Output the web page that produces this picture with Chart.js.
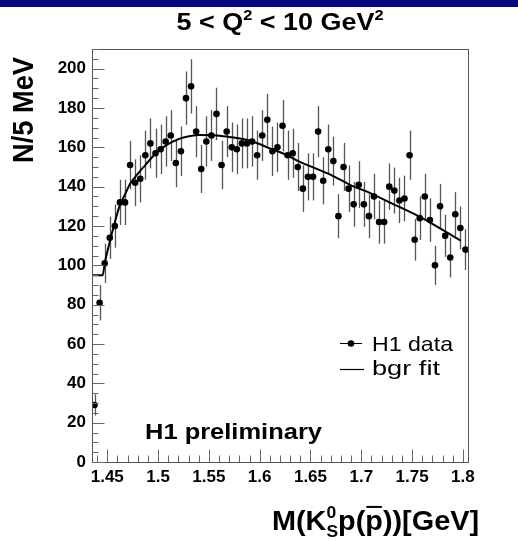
<!DOCTYPE html>
<html><head><meta charset="utf-8">
<script src="https://cdn.jsdelivr.net/npm/chart.js@4/dist/chart.umd.min.js"></script>
<style>html,body{margin:0;padding:0;background:#fff;}#wrap{width:518px;height:541px;position:relative}</style>
</head><body><div id="wrap"><canvas id="c" width="518" height="541"></canvas></div>
<script>
// bin centres of the 5 MeV mass bins (GeV)
const BIN_CENTERS = [1.4375,1.4425,1.4475,1.4525,1.4575,1.4625,1.4675,1.4725,1.4775,1.4825,
 1.4875,1.4925,1.4975,1.5025,1.5075,1.5125,1.5175,1.5225,1.5275,1.5325,
 1.5375,1.5425,1.5475,1.5525,1.5575,1.5625,1.5675,1.5725,1.5775,1.5825,
 1.5875,1.5925,1.5975,1.6025,1.6075,1.6125,1.6175,1.6225,1.6275,1.6325,
 1.6375,1.6425,1.6475,1.6525,1.6575,1.6625,1.6675,1.6725,1.6775,1.6825,
 1.6875,1.6925,1.6975,1.7025,1.7075,1.7125,1.7175,1.7225,1.7275,1.7325,
 1.7375,1.7425,1.7475,1.7525,1.7575,1.7625,1.7675,1.7725,1.7775,1.7825,
 1.7875,1.7925,1.7975,1.8025];
// H1 data: entries per bin
const H1_COUNTS = [29,81,101,114,120,132,132,151,142,144,
 156,162,157,159,163,166,152,158,185,191,
 168,149,163,166,177,151,168,160,159,162,
 162,163,156,166,174,158,160,171,156,157,
 150,139,145,145,168,143,159,153,125,150,
 139,131,141,131,125,135,122,122,140,138,
 133,134,156,113,124,135,123,100,130,115,
 104,126,119,108];
// statistical errors per bin
const H1_ERRORS = [5.4,9.0,10.0,10.7,11.0,11.5,11.5,12.3,11.9,12.0,
 12.5,12.7,12.5,12.6,12.8,12.9,12.3,12.6,13.6,13.8,
 13.0,12.2,12.8,12.9,13.3,12.3,13.0,12.6,12.6,12.7,
 12.7,12.8,12.5,12.9,13.2,12.6,12.6,13.1,12.5,12.5,
 12.2,11.8,12.0,12.0,13.0,12.0,12.6,12.4,11.2,12.2,
 11.8,11.4,11.9,11.4,11.2,11.6,11.0,11.0,11.8,11.7,
 11.5,11.6,12.5,10.6,11.1,11.6,11.1,10.0,11.4,10.7,
 10.2,11.2,10.9,10.4];
// background fit curve
const FIT_X = [1.435,1.4455,1.4475,1.452,1.457,1.462,1.4675,1.4725,1.48,1.4875,1.495,1.505,1.515,1.525,1.54,1.555,1.57,1.59,1.61,1.625,1.64,1.655,1.67,1.69,1.71,1.73,1.76,1.78,1.798];
const FIT_Y = [95,95,101,111,121,130,136,141.5,146.5,151,155.5,160,163,165,166.3,166.2,165.3,163.5,159.5,156.5,152.5,149.3,146,140.7,136.5,131.5,124,118,112.5];
// axis ticks
const X_TICKS = [1.45,1.5,1.55,1.6,1.65,1.7,1.75,1.8];
const X_TICK_LABELS = ['1.45','1.5','1.55','1.6','1.65','1.7','1.75','1.8'];
const Y_TICKS = [0,20,40,60,80,100,120,140,160,180,200];
const Y_TICK_LABELS = ['0','20','40','60','80','100','120','140','160','180','200'];
const TITLE_TEXT = '5 < Q² < 10 GeV²';
const Y_TITLE = 'N/5 MeV';
const X_TITLE = 'M(K⁰ₛp(p̄))[GeV]';

const FONT = '"Liberation Sans", Arial, Helvetica, sans-serif';

function richText(ctx, pieces, x, y, targetWidth, align) {
  let w = 0; const adv = [];
  pieces.forEach(p => {
    ctx.font = `${p.weight||'bold'} ${p.size}px ${FONT}`;
    const m = ctx.measureText(p.t).width;
    adv.push(m);
    if (!p.stack) w += m;
  });
  const sx = targetWidth ? targetWidth / w : 1;
  ctx.save();
  let x0 = x;
  if (align === 'right') x0 = x - w * sx;
  else if (align === 'center') x0 = x - w * sx / 2;
  ctx.translate(x0, y);
  ctx.scale(sx, 1);
  let cx = 0;
  ctx.textBaseline = 'alphabetic';
  ctx.textAlign = 'left';
  pieces.forEach((p, i) => {
    ctx.font = `${p.weight||'bold'} ${p.size}px ${FONT}`;
    ctx.fillText(p.t, cx, p.dy || 0);
    if (p.over) {
      ctx.fillRect(cx + 1, -p.size * 0.86, adv[i] - 2, 2);
    }
    if (!p.stack) cx += adv[i];
  });
  ctx.restore();
}

const framePlugin = {
  id: 'frame',
  beforeDatasetsDraw(chart) {
    const {ctx, scales: {x, y}} = chart;
    ctx.save();
    ctx.strokeStyle = '#555';
    ctx.lineWidth = 1.3;
    BIN_CENTERS.forEach((c, i) => {
      const px = Math.round(x.getPixelForValue(c)) + 0.5;
      const lo = Math.max(0, H1_COUNTS[i] - H1_ERRORS[i]);
      const hi = H1_COUNTS[i] + H1_ERRORS[i];
      ctx.beginPath();
      ctx.moveTo(px, y.getPixelForValue(lo));
      ctx.lineTo(px, y.getPixelForValue(hi));
      ctx.stroke();
    });
    ctx.restore();
  },
  afterDraw(chart) {
    const {ctx, chartArea: a, scales: {x, y}} = chart;
    ctx.save();
    ctx.strokeStyle = '#555';
    ctx.lineWidth = 1;
    ctx.strokeRect(Math.round(a.left) + 0.5, Math.round(a.top) + 0.5, Math.round(a.right - a.left), Math.round(a.bottom - a.top));
    ctx.strokeStyle = '#666';
    for (let v = 0; v <= 210; v += 5) {
      const py = Math.round(y.getPixelForValue(v)) + 0.5;
      const len = (v % 20 === 0) ? 12.5 : 6.5;
      ctx.beginPath(); ctx.moveTo(a.left, py); ctx.lineTo(a.left + len, py); ctx.stroke();
    }
    for (let k = 144; k <= 180; k += 1) {
      const v = k / 100;
      const px = Math.round(x.getPixelForValue(v)) + 0.5;
      const len = (k % 5 === 0) ? 12.5 : 6.5;
      ctx.beginPath(); ctx.moveTo(px, a.bottom); ctx.lineTo(px, a.bottom - len); ctx.stroke();
    }
    ctx.restore();

    ctx.save();
    ctx.fillStyle = '#06067a';
    ctx.fillRect(0, 0, chart.width, 7);
    ctx.fillStyle = '#000';
    richText(ctx, [
      {t: '5 < Q', size: 23}, {t: '2', size: 14, dy: -10}, {t: ' < 10 GeV', size: 23}, {t: '2', size: 14, dy: -10}
    ], 280, 30, 207, 'center');
    ctx.save();
    ctx.translate(33, 163);
    ctx.rotate(-Math.PI / 2);
    richText(ctx, [{t: Y_TITLE, size: 29}], 0, 0, 106, 'left');
    ctx.restore();
    richText(ctx, [
      {t: 'M(K', size: 28}, {t: '0', size: 17, dy: -12, stack: true}, {t: 'S', size: 17, dy: 7},
      {t: 'p(', size: 28}, {t: 'p', size: 28, over: true}, {t: '))[GeV]', size: 28}
    ], 479, 530, 207, 'right');
    richText(ctx, [{t: 'H1 preliminary', size: 22}], 145, 439, 177, 'left');
    ctx.strokeStyle = '#000';
    ctx.lineWidth = 1;
    ctx.beginPath(); ctx.moveTo(340, 343.5); ctx.lineTo(362, 343.5); ctx.stroke();
    ctx.beginPath(); ctx.arc(351, 343.5, 3.3, 0, Math.PI * 2); ctx.fill();
    richText(ctx, [{t: 'H1 data', size: 21, weight: 'normal'}], 372, 351, 81, 'left');
    ctx.lineWidth = 1.2;
    ctx.beginPath(); ctx.moveTo(340, 369.5); ctx.lineTo(364, 369.5); ctx.stroke();
    richText(ctx, [{t: 'bgr fit', size: 21, weight: 'normal'}], 372, 375, 68, 'left');
    ctx.restore();
  }
};

const tickFont = {family: FONT, weight: 'bold', size: 17};
new Chart(document.getElementById('c'), {
  type: 'scatter',
  data: {
    datasets: [
      {
        label: 'H1 data',
        data: BIN_CENTERS.map((c, i) => ({x: c, y: H1_COUNTS[i]})),
        showLine: false,
        pointRadius: 3.3,
        pointBackgroundColor: '#000',
        pointBorderWidth: 0,
        order: 0
      },
      {
        label: 'bgr fit',
        data: FIT_X.map((c, i) => ({x: c, y: FIT_Y[i]})),
        showLine: true,
        pointRadius: 0,
        borderColor: '#000',
        borderWidth: 2,
        cubicInterpolationMode: 'monotone',
        order: 1
      }
    ]
  },
  options: {
    responsive: false,
    animation: false,
    devicePixelRatio: 1,
    layout: {padding: {top: 49, right: 50, left: 0, bottom: 0}},
    plugins: {legend: {display: false}, title: {display: false}, tooltip: {enabled: false}},
    scales: {
      x: {
        type: 'linear', min: 1.435, max: 1.805,
        afterBuildTicks: s => { s.ticks = X_TICKS.map(v => ({value: v})); },
        afterFit: s => { s.height = 79; },
        grid: {display: false, drawTicks: false},
        border: {display: false},
        ticks: {callback: (v, i) => X_TICK_LABELS[i], font: tickFont, color: '#000', padding: 5, maxRotation: 0, autoSkip: false}
      },
      y: {
        type: 'linear', min: 0, max: 210,
        afterBuildTicks: s => { s.ticks = Y_TICKS.map(v => ({value: v})); },
        afterFit: s => { s.width = 92; },
        grid: {display: false, drawTicks: false},
        border: {display: false},
        ticks: {callback: (v, i) => Y_TICK_LABELS[i], font: tickFont, color: '#000', padding: 6, autoSkip: false}
      }
    }
  },
  plugins: [framePlugin]
});
</script>
</body></html>
